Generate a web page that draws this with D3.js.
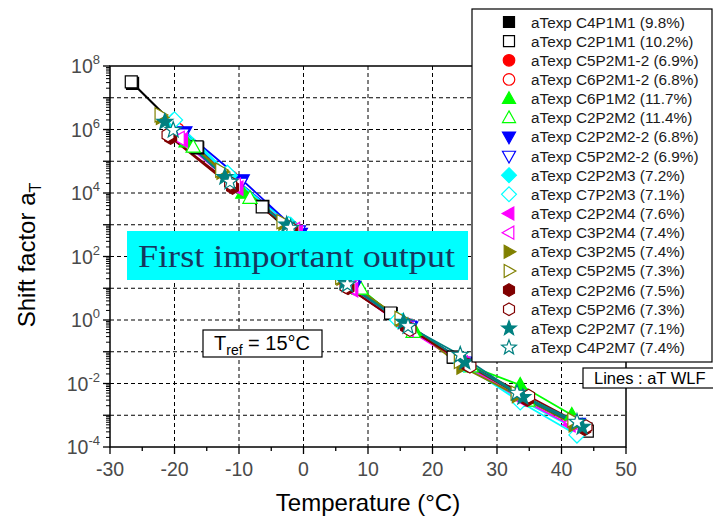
<!DOCTYPE html>
<html>
<head>
<meta charset="utf-8">
<script src="https://cdn.jsdelivr.net/npm/d3@7"></script>
<style>
  body { margin: 0; background: #fff; }
  svg { display: block; }
</style>
</head>
<body>
<svg id="chart" width="713" height="519"></svg>
<script>
// ---- Series definitions ----
const seriesNames = [
  "aTexp C4P1M1 (9.8%)", "aTexp C2P1M1 (10.2%)",
  "aTexp C5P2M1-2 (6.9%)", "aTexp C6P2M1-2 (6.8%)",
  "aTexp C6P1M2 (11.7%)", "aTexp C2P2M2 (11.4%)",
  "aTexp C2P2M2-2 (6.8%)", "aTexp C5P2M2-2 (6.9%)",
  "aTexp C2P2M3 (7.2%)", "aTexp C7P2M3 (7.1%)",
  "aTexp C2P2M4 (7.6%)", "aTexp C3P2M4 (7.4%)",
  "aTexp C3P2M5 (7.4%)", "aTexp C5P2M5 (7.3%)",
  "aTexp C2P2M6 (7.5%)", "aTexp C5P2M6 (7.3%)",
  "aTexp C2P2M7 (7.1%)", "aTexp C4P2M7 (7.4%)"
];
const seriesColors = [
  "#000000", "#000000", "#ff0000", "#ff0000", "#00ff00", "#00ff00",
  "#0000ff", "#0000ff", "#00ffff", "#00ffff", "#ff00ff", "#ff00ff",
  "#808000", "#808000", "#800000", "#800000", "#008080", "#008080"
];
const seriesShapes = [
  "square", "square", "circle", "circle", "triUp", "triUp",
  "triDown", "triDown", "diamond", "diamond", "triLeft", "triLeft",
  "triRight", "triRight", "hexagon", "hexagon", "star", "star"
];
const seriesFilled = [
  true, false, true, false, true, false, true, false, true, false,
  true, false, true, false, true, false, true, false
];

// Temperatures (°C) of each measured point, per series
const seriesTemps = [
  [-26.5, -16.4, -6.3, 3.6, 13.6, 23.3, 33.6, 43.8],
  [-26.7, -16.5, -6.4, 3.5, 13.5, 23.2, 33.5, 44.0],
  [-19.8, -10.8, -1.2, 7.4, 16.3, 25.3, 34.3, 42.8],
  [-19.5, -11.2, -1.8, 7.2, 16.0, 25.6, 34.6, 43.2],
  [-18.2, -9.4, 0.3, 8.6, 17.2, 25.8, 33.6, 41.6],
  [-17.1, -8.3, 1.0, 8.9, 17.0, 26.0, 34.8, 42.0],
  [-18.4, -9.5, -0.5, 7.8, 16.6, 25.2, 34.2, 42.6],
  [-18.8, -9.8, -0.8, 7.6, 16.4, 25.0, 34.0, 42.4],
  [-20.3, -11.5, -2.0, 6.8, 15.3, 24.8, 33.5, 42.2],
  [-20.0, -11.8, -2.3, 6.5, 14.6, 24.5, 33.6, 42.4],
  [-18.8, -10.2, -1.0, 7.6, 16.2, 24.9, 33.8, 41.3],
  [-19.3, -10.6, -1.4, 7.3, 15.8, 24.6, 33.4, 41.6],
  [-22.0, -12.6, -3.0, 6.0, 15.2, 24.6, 33.2, 42.0],
  [-22.2, -12.8, -3.3, 5.8, 15.0, 24.2, 33.0, 41.8],
  [-20.6, -11.0, -1.8, 6.9, 16.0, 25.5, 34.7, 43.6],
  [-21.0, -11.3, -2.2, 6.6, 16.5, 25.8, 34.9, 43.8],
  [-21.5, -12.2, -2.6, 6.4, 15.5, 25.0, 34.0, 43.2],
  [-20.2, -11.4, -2.0, 6.8, 16.2, 24.3, 33.1, 42.4]
];
// log10 of the shift factor aT at each point
const seriesLogAT = [
  [7.45, 5.42, 3.58, 1.72, 0.20, -1.18, -2.38, -3.44],
  [7.50, 5.45, 3.56, 1.75, 0.22, -1.17, -2.40, -3.50],
  [5.98, 4.38, 2.75, 1.12, -0.20, -1.38, -2.47, -3.30],
  [6.00, 4.50, 2.92, 1.15, -0.14, -1.40, -2.48, -3.33],
  [5.62, 4.00, 2.50, 0.98, -0.32, -1.45, -2.05, -2.99],
  [5.45, 3.84, 2.40, 0.98, -0.38, -1.47, -2.55, -3.20],
  [5.92, 4.41, 2.72, 1.05, -0.22, -1.36, -2.45, -3.26],
  [5.85, 4.30, 2.80, 1.10, -0.20, -1.33, -2.43, -3.28],
  [6.25, 4.55, 2.98, 1.20, -0.05, -1.38, -2.50, -3.42],
  [6.30, 4.62, 3.00, 1.25, 0.00, -1.35, -2.58, -3.62],
  [5.67, 4.15, 2.75, 0.95, -0.30, -1.40, -2.50, -3.30],
  [5.72, 4.25, 2.85, 1.02, -0.20, -1.35, -2.42, -3.22],
  [6.38, 4.66, 3.05, 1.32, 0.02, -1.48, -2.38, -3.30],
  [6.46, 4.72, 3.10, 1.35, 0.05, -1.30, -2.30, -3.15],
  [5.75, 4.18, 2.85, 1.02, -0.22, -1.42, -2.50, -3.42],
  [5.83, 4.30, 2.90, 1.05, -0.30, -1.45, -2.40, -3.36],
  [6.24, 4.50, 3.00, 1.20, -0.06, -1.32, -2.43, -3.37],
  [5.98, 4.35, 2.90, 1.12, -0.20, -1.10, -2.30, -3.21]
];

const xTickValues = [-30, -20, -10, 0, 10, 20, 30, 40, 50];
const xMinorValues = [-25, -15, -5, 5, 15, 25, 35, 45];
const yLabelExponents = [-4, -2, 0, 2, 4, 6, 8];
const yGridExponents = [-3, -2, -1, 0, 1, 2, 3, 4, 5, 6, 7];

// ---- Layout ----
const svg = d3.select("#chart");
const plotL = 110, plotR = 626, plotT = 66, plotB = 447;

const x = d3.scaleLinear().domain([-30, 50]).range([plotL, plotR]);
const y = d3.scaleLog().domain([1e-4, 1e8]).range([plotB, plotT]);

const FONT = "Arial, 'Liberation Sans', Helvetica, sans-serif";
const tickColor = "#4a4a4a";

// Grid
const grid = svg.append("g").attr("stroke", "#000").attr("stroke-width", 1)
  .attr("stroke-dasharray", "4,3");
grid.append("g").selectAll("line").data(xTickValues.slice(1, -1)).join("line")
  .attr("x1", d => x(d)).attr("x2", d => x(d))
  .attr("y1", plotT).attr("y2", plotB);
grid.append("g").selectAll("line").data(yGridExponents).join("line")
  .attr("x1", plotL).attr("x2", plotR)
  .attr("y1", d => y(Math.pow(10, d))).attr("y2", d => y(Math.pow(10, d)));

// Symbol path builder
function shapePath(shape, r) {
  const p = d3.path();
  if (shape === "square") {
    p.rect(-r, -r, 2 * r, 2 * r);
  } else if (shape === "circle") {
    p.arc(0, 0, r * 1.05, 0, 2 * Math.PI);
  } else if (shape === "diamond") {
    const a = r * 1.35;
    p.moveTo(0, -a); p.lineTo(a, 0); p.lineTo(0, a); p.lineTo(-a, 0); p.closePath();
  } else if (shape.startsWith("tri")) {
    const a = r * 1.25;
    let pts = [[0, -a], [a * 0.95, a * 0.7], [-a * 0.95, a * 0.7]];
    const rot = { triUp: 0, triRight: 90, triDown: 180, triLeft: 270 }[shape] * Math.PI / 180;
    pts = pts.map(([px, py]) => [px * Math.cos(rot) - py * Math.sin(rot), px * Math.sin(rot) + py * Math.cos(rot)]);
    p.moveTo(...pts[0]); p.lineTo(...pts[1]); p.lineTo(...pts[2]); p.closePath();
  } else if (shape === "hexagon") {
    const a = r * 1.15;
    for (let k = 0; k < 6; k++) {
      const ang = (-90 + 60 * k) * Math.PI / 180;
      if (k === 0) p.moveTo(a * Math.cos(ang), a * Math.sin(ang));
      else p.lineTo(a * Math.cos(ang), a * Math.sin(ang));
    }
    p.closePath();
  } else if (shape === "star") {
    const ro = r * 1.4, ri = r * 0.58;
    for (let k = 0; k < 10; k++) {
      const ang = (-90 + 36 * k) * Math.PI / 180;
      const rr = k % 2 === 0 ? ro : ri;
      if (k === 0) p.moveTo(rr * Math.cos(ang), rr * Math.sin(ang));
      else p.lineTo(rr * Math.cos(ang), rr * Math.sin(ang));
    }
    p.closePath();
  }
  return p.toString();
}

const series = seriesNames.map((name, i) => ({
  name, color: seriesColors[i], shape: seriesShapes[i], filled: seriesFilled[i],
  points: seriesTemps[i].map((t, j) => ({ t, aT: Math.pow(10, seriesLogAT[i][j]) }))
}));

// WLF lines
const line = d3.line().x(d => x(d.t)).y(d => y(d.aT));
const plot = svg.append("g");
plot.selectAll("path.wlf").data(series).join("path")
  .attr("fill", "none").attr("stroke", d => d.color).attr("stroke-width", 1.8)
  .attr("d", d => line(d.points));

// Markers
const R = 6;
series.forEach(s => {
  plot.append("g").selectAll("path").data(s.points).join("path")
    .attr("transform", d => `translate(${x(d.t)},${y(d.aT)})`)
    .attr("d", shapePath(s.shape, R))
    .attr("fill", s.filled ? s.color : "#fff")
    .attr("stroke", s.color).attr("stroke-width", 1.2);
});

// Frame
svg.append("rect").attr("x", plotL).attr("y", plotT)
  .attr("width", plotR - plotL).attr("height", plotB - plotT)
  .attr("fill", "none").attr("stroke", "#000").attr("stroke-width", 1.5);

// X axis ticks and labels
const axes = svg.append("g").attr("stroke", "#000").attr("stroke-width", 1.3);
axes.append("g").selectAll("line").data(xTickValues).join("line")
  .attr("x1", d => x(d)).attr("x2", d => x(d)).attr("y1", plotB).attr("y2", plotB + 7);
axes.append("g").selectAll("line").data(xMinorValues).join("line")
  .attr("x1", d => x(d)).attr("x2", d => x(d)).attr("y1", plotB).attr("y2", plotB + 4);

svg.append("g").selectAll("text").data(xTickValues).join("text")
  .attr("x", d => x(d)).attr("y", 476)
  .attr("text-anchor", "middle").attr("font-family", FONT).attr("font-size", 19.5)
  .attr("fill", tickColor).text(d => d);

// Y axis ticks (log)
const yMajor = d3.range(-4, 9).map(e => Math.pow(10, e));
const yMinor = [];
for (let e = -4; e < 8; e++) for (let k = 2; k <= 9; k++) yMinor.push(k * Math.pow(10, e));
axes.append("g").selectAll("line").data(yMajor).join("line")
  .attr("x1", plotL - 7).attr("x2", plotL).attr("y1", d => y(d)).attr("y2", d => y(d));
axes.append("g").selectAll("line").data(yMinor).join("line")
  .attr("x1", plotL - 4).attr("x2", plotL).attr("y1", d => y(d)).attr("y2", d => y(d))
  .attr("stroke-width", 1);

const yLab = svg.append("g").selectAll("text").data(yLabelExponents).join("text")
  .attr("x", 100).attr("y", d => y(Math.pow(10, d)) + 7)
  .attr("text-anchor", "end").attr("font-family", FONT).attr("fill", tickColor);
yLab.append("tspan").attr("font-size", 19.5).text("10");
yLab.append("tspan").attr("font-size", 13).attr("dy", -9).text(d => d);

// Axis titles
svg.append("text").attr("x", 368).attr("y", 511).attr("text-anchor", "middle")
  .attr("font-family", FONT).attr("font-size", 24).attr("fill", "#000")
  .text("Temperature (°C)");
const yt = svg.append("text").attr("transform", "translate(35,255) rotate(-90)")
  .attr("text-anchor", "middle").attr("font-family", FONT).attr("font-size", 24)
  .attr("fill", "#000");
yt.append("tspan").text("Shift factor a");
yt.append("tspan").attr("font-size", 16).attr("dy", 6).text("T");

// Reference temperature box
svg.append("rect").attr("x", 203).attr("y", 330).attr("width", 119).attr("height", 27)
  .attr("fill", "#fff").attr("stroke", "#000").attr("stroke-width", 1.2);
const tr = svg.append("text").attr("x", 214).attr("y", 350)
  .attr("font-family", FONT).attr("font-size", 20).attr("fill", "#000");
tr.append("tspan").text("T");
tr.append("tspan").attr("font-size", 14).attr("dy", 5).text("ref");
tr.append("tspan").attr("dy", -5).text(" = 15°C");

// Highlight banner
svg.append("rect").attr("x", 127).attr("y", 231).attr("width", 341).attr("height", 49)
  .attr("fill", "#00ffff");
svg.append("text").attr("x", 138).attr("y", 267)
  .attr("font-family", "'Liberation Serif', 'DejaVu Serif', serif").attr("font-size", 31)
  .attr("fill", "#17375e").attr("textLength", 317).attr("lengthAdjust", "spacingAndGlyphs")
  .text("First important output");

// Legend
const legX = 472, legY = 9, legW = 240, legH = 353;
svg.append("rect").attr("x", legX).attr("y", legY).attr("width", legW).attr("height", legH)
  .attr("fill", "#fff").attr("stroke", "#000").attr("stroke-width", 1.2);
const leg = svg.append("g").selectAll("g").data(series).join("g")
  .attr("transform", (d, i) => `translate(509,${22 + i * 19.15})`);
leg.append("path").attr("d", d => shapePath(d.shape, 5.5))
  .attr("fill", d => d.filled ? d.color : "#fff")
  .attr("stroke", d => d.color).attr("stroke-width", 1.2);
leg.append("text").attr("x", 22).attr("y", 5.5)
  .attr("font-family", FONT).attr("font-size", 15.3).attr("fill", "#1a1a1a")
  .text(d => d.name);

// Line-type note
svg.append("rect").attr("x", 583).attr("y", 368).attr("width", 135).attr("height", 20)
  .attr("fill", "#fff").attr("stroke", "#000").attr("stroke-width", 1.2);
svg.append("text").attr("x", 594).attr("y", 384)
  .attr("font-family", FONT).attr("font-size", 16.5).attr("fill", "#000")
  .text("Lines : aT WLF");
</script>
</body>
</html>
